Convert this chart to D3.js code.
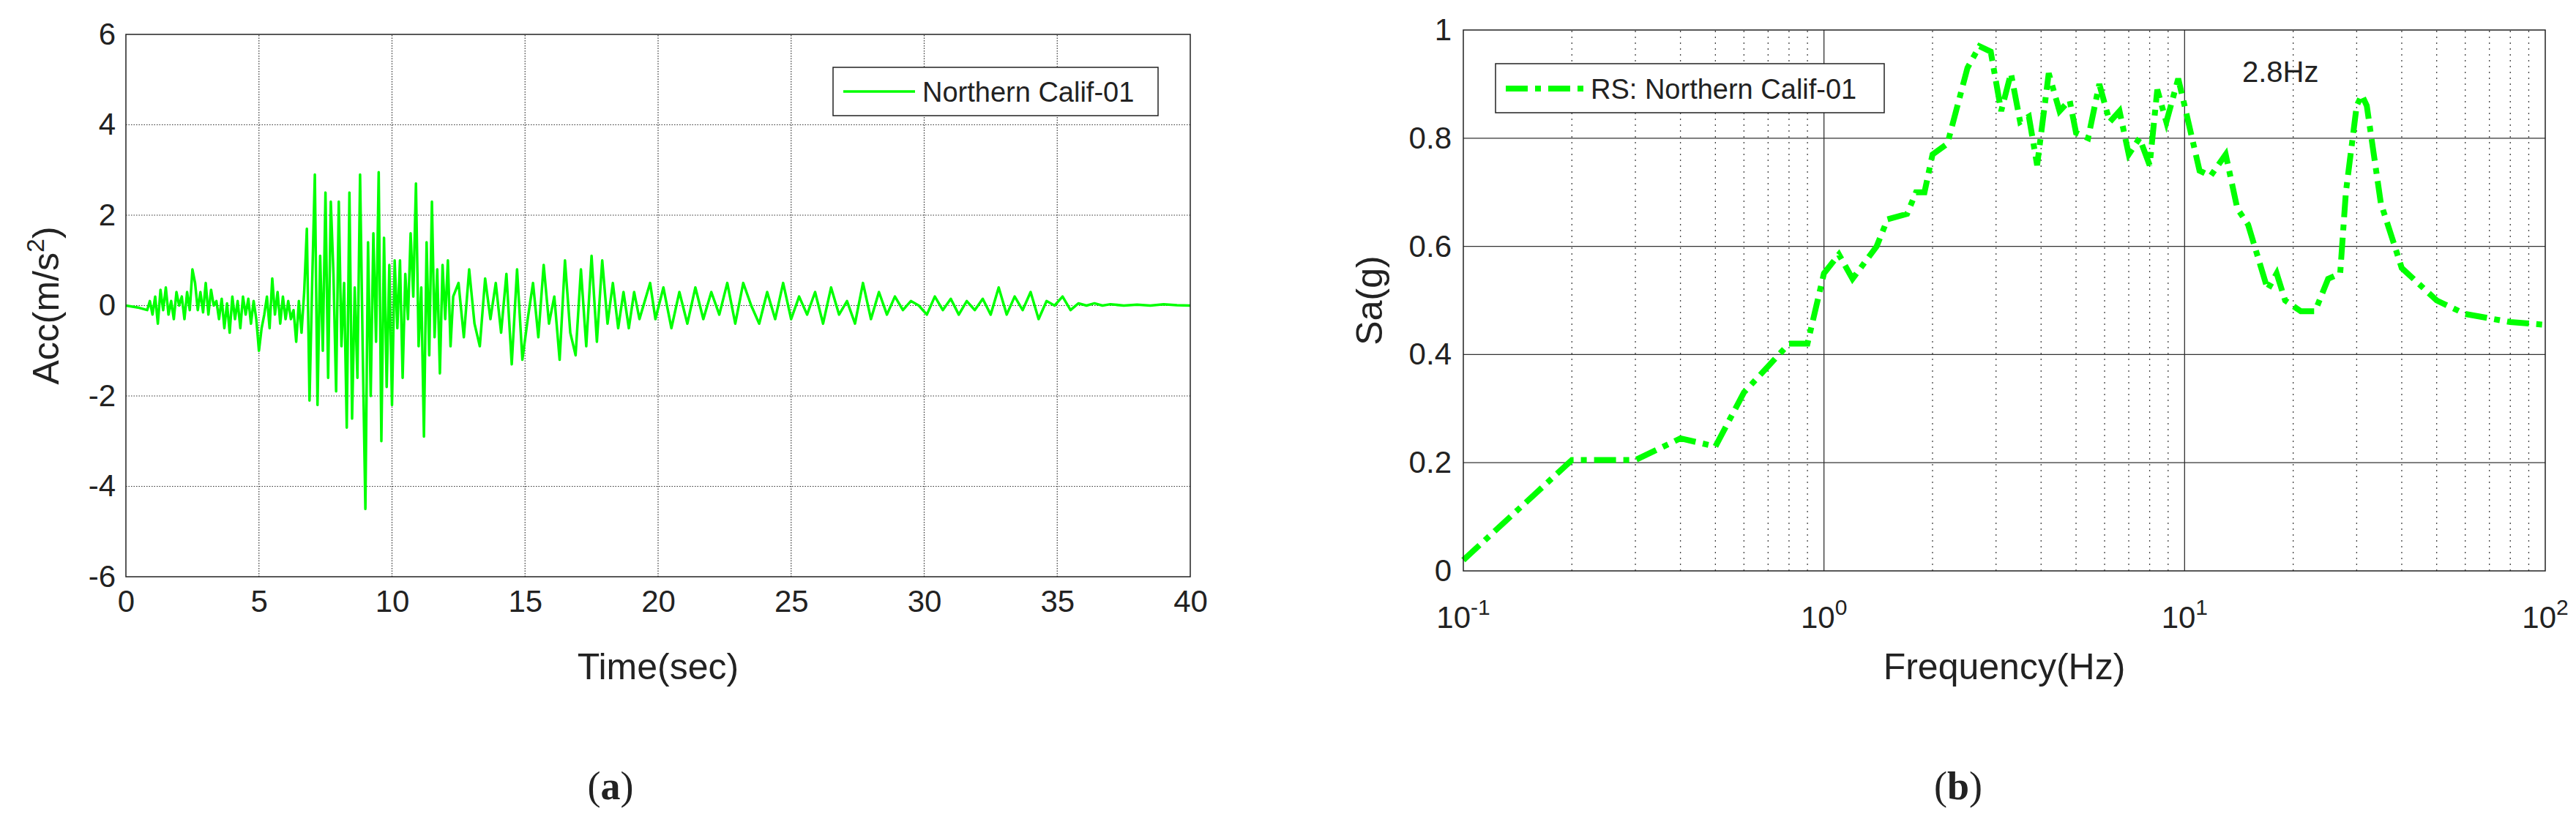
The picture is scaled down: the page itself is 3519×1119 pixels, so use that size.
<!DOCTYPE html>
<html><head><meta charset="utf-8">
<script src="https://cdn.jsdelivr.net/npm/d3@7"></script>
<style>body{margin:0;background:#fff}</style>
</head><body>
<svg id="c" width="3519" height="1119"></svg>
<script>
// (a) acceleration record, extrema
let accT = [0,0.5,0.8,0.9,1.0,1.1,1.2,1.3,1.4,1.5,1.6,1.7,1.8,1.9,2.0,2.1,2.2,2.3,2.4,2.5,2.6,2.7,2.8,2.9,3.0,3.1,3.2,3.3,3.4,3.5,3.6,3.7,3.8,3.9,4.0,4.1,4.2,4.3,4.4,4.5,4.6,4.7,4.8,4.9,5.0,5.1,5.2,5.3,5.4,5.5,5.6,5.7,5.8,5.9,6.0,6.1,6.2,6.3,6.4,6.5,6.6,6.7,6.8,6.9,7.0,7.1,7.2,7.3,7.4,7.5,7.6,7.7,7.8,7.9,8.0,8.1,8.2,8.3,8.4,8.5,8.6,8.7,8.8,8.9,9.0,9.1,9.2,9.3,9.4,9.5,9.6,9.7,9.8,9.9,10.0,10.1,10.2,10.3,10.4,10.5,10.6,10.7,10.8,10.9,11.0,11.1,11.2,11.3,11.4,11.5,11.6,11.7,11.8,11.9,12.0,12.1,12.2,12.3,12.5,12.7,12.9,13.1,13.3,13.5,13.7,13.9,14.1,14.3,14.5,14.7,14.9,15.1,15.3,15.5,15.7,15.9,16.1,16.3,16.5,16.7,16.9,17.1,17.3,17.5,17.7,17.9,18.1,18.3,18.5,18.7,18.9,19.1,19.3,19.5,19.7,19.9,20.2,20.5,20.8,21.1,21.4,21.7,22.0,22.3,22.6,22.9,23.2,23.5,23.8,24.1,24.4,24.7,25.0,25.3,25.6,25.9,26.2,26.5,26.8,27.1,27.4,27.7,28.0,28.3,28.6,28.9,29.2,29.5,29.8,30.1,30.4,30.7,31.0,31.3,31.6,31.9,32.2,32.5,32.8,33.1,33.4,33.7,34.0,34.3,34.6,34.9,35.2,35.5,35.8,36.1,36.4,36.7,37.0,37.5,38.0,38.5,39.0,39.5,40];
let accV = [0,-0.05,-0.1,0.1,-0.2,0.2,-0.4,0.35,-0.1,0.4,
  -0.2,0.1,-0.3,0.3,0,0.2,-0.3,0.3,-0.1,0.8,
  0.5,-0.1,0.3,-0.15,0.5,-0.2,0.35,0,0.1,-0.3,
  0.15,-0.5,0.05,-0.6,0.2,-0.3,0.1,-0.5,0.2,-0.2,
  0.15,-0.4,0.1,-0.3,-1.0,-0.5,-0.2,0.2,-0.5,0.6,
  -0.2,0.3,-0.4,0.2,-0.3,0.1,
  -0.3,-0.1,-0.8,0.1,-0.6,0.3,1.7,-2.1,0.5,2.9,
  -2.2,1.1,-1.0,2.5,-1.6,2.3,0.7,-1.9,2.3,-0.9,
  0.5,-2.7,2.5,-2.5,0.4,-1.6,2.9,-1.0,-4.5,1.4,
  -2.0,1.6,-0.8,2.95,-3.0,1.5,-1.8,0.9,-2.2,1.0,
  -0.5,1.0,-1.6,0.7,-0.3,1.6,0.2,2.7,-0.9,0.4,
  -2.9,1.4,-1.1,2.3,-0.7,0.8,-1.5,0.9,-0.3,1.0,
  -0.9,0.2,0.5,-0.7,0.8,-0.4,-0.9,0.6,-0.3,0.5,
  -0.6,0.7,-1.3,0.8,-1.2,-0.3,0.5,-0.7,0.9,-0.4,
  0.2,-1.2,1.0,-0.6,-1.1,0.8,-0.9,1.1,-0.8,1.0,
  -0.4,0.5,-0.5,0.3,-0.5,0.3,-0.3,0.1,0.5,-0.3,
  0.4,-0.5,0.3,-0.4,0.4,-0.3,0.3,-0.2,0.5,-0.4,
  0.5,0,-0.4,0.3,-0.3,0.5,-0.3,0.2,-0.2,0.3,
  -0.4,0.4,-0.2,0.1,-0.4,0.5,-0.3,0.3,-0.2,0.2,
  -0.1,0.1,0,-0.2,0.2,-0.1,0.15,-0.2,0.1,-0.1,
  0.15,-0.2,0.4,-0.2,0.2,-0.1,0.3,-0.3,0.1,0,0.2,-0.1,0.05,0,0.05,0,0.03,0,
  0.02,0,0.03,0.01,0];
let accXTicks = [0,5,10,15,20,25,30,35,40];
let accYTicks = [-6,-4,-2,0,2,4,6];

// (b) response spectrum
let rsF = [0.1,0.2,0.3,0.4,0.5,0.6,0.8,0.9,1.0,1.1,1.2,1.4,1.5,1.7,1.8,1.9,2.0,2.2,2.5,2.7,2.9,3.1,3.3,3.5,3.7,3.9,4.2,4.5,4.8,5.0,5.4,5.8,6.2,6.6,7.0,7.5,8.0,8.4,8.9,9.6,10,11,11.8,13,14,15,17,18,19,21,23,25,27,28,30,31,32,35,40,50,60,80,100];
let rsSa = [0.02,0.205,0.205,0.245,0.23,0.33,0.42,0.42,0.55,0.585,0.54,0.6,0.65,0.66,0.7,0.7,0.77,0.79,0.93,0.97,0.96,0.85,0.92,0.83,0.84,0.75,0.92,0.85,0.87,0.81,0.8,0.9,0.83,0.85,0.77,0.8,0.75,0.89,0.83,0.91,0.86,0.74,0.73,0.77,0.67,0.64,0.52,0.55,0.5,0.48,0.48,0.54,0.55,0.7,0.86,0.88,0.86,0.68,0.56,0.5,0.475,0.46,0.455];
let rsYTicks = [0,0.2,0.4,0.6,0.8,1];
let rsXTicks = [0.1,1,10,100];
let rsExp = ["-1","0","1","2"];

let green = "#00ff00";
let tickFont = "'Liberation Sans Narrow','Liberation Sans',Arial,sans-serif";
let svg = d3.select("#c");

// ---------- panel (a) ----------
let ax = d3.scaleLinear().domain([0,40]).range([172,1626]);
let ay = d3.scaleLinear().domain([-6,6]).range([788,47]);
let ga = svg.append("g");

ga.selectAll(".vg").data(accXTicks.slice(1,-1)).enter().append("line")
  .attr("x1",d=>ax(d)).attr("x2",d=>ax(d)).attr("y1",ay(-6)).attr("y2",ay(6))
  .attr("stroke","#333").attr("stroke-width",1.2).attr("stroke-dasharray","1.5,2");
ga.selectAll(".hg").data(accYTicks.slice(1,-1)).enter().append("line")
  .attr("x1",ax(0)).attr("x2",ax(40)).attr("y1",d=>ay(d)).attr("y2",d=>ay(d))
  .attr("stroke","#333").attr("stroke-width",1.2).attr("stroke-dasharray","1.5,2");

ga.append("path").datum(accT.map((t,i)=>[t,accV[i]]).filter(d=>d[1]!==undefined))
  .attr("d",d3.line().x(d=>ax(d[0])).y(d=>ay(d[1])))
  .attr("fill","none").attr("stroke",green).attr("stroke-width",3.5).attr("stroke-linejoin","round");

ga.append("rect").attr("x",ax(0)).attr("y",ay(6)).attr("width",ax(40)-ax(0)).attr("height",ay(-6)-ay(6))
  .attr("fill","none").attr("stroke","#222").attr("stroke-width",1.5);

ga.append("g").attr("transform",`translate(0,${ay(-6)})`)
  .call(d3.axisBottom(ax).tickValues(accXTicks).tickSize(0).tickPadding(18))
  .call(g=>g.select(".domain").remove())
  .selectAll("text").attr("font-size",42).attr("font-family",tickFont).attr("fill","#222");
ga.append("g").attr("transform",`translate(${ax(0)},0)`)
  .call(d3.axisLeft(ay).tickValues(accYTicks).tickFormat(d=>d).tickSize(0).tickPadding(14))
  .call(g=>g.select(".domain").remove())
  .selectAll("text").attr("font-size",42).attr("font-family",tickFont).attr("fill","#222");

ga.append("text").attr("x",(ax(0)+ax(40))/2).attr("y",928).attr("text-anchor","middle")
  .attr("font-size",50).attr("font-family",tickFont).attr("fill","#222").text("Time(sec)");
let yl = ga.append("text").attr("transform",`translate(80,${ay(0)}) rotate(-90)`).attr("text-anchor","middle")
  .attr("font-size",50).attr("font-family","'Liberation Sans',Arial,sans-serif").attr("fill","#222");
yl.append("tspan").text("Acc(m/s");
yl.append("tspan").attr("dy",-20).attr("font-size",34).text("2");
yl.append("tspan").attr("dy",20).text(")");

let la = ga.append("g").attr("transform","translate(1138,92)");
la.append("rect").attr("width",444).attr("height",66).attr("fill","#fff").attr("stroke","#222").attr("stroke-width",1.5);
la.append("line").attr("x1",14).attr("x2",112).attr("y1",33).attr("y2",33).attr("stroke",green).attr("stroke-width",3.5);
la.append("text").attr("x",122).attr("y",47).attr("font-size",38).attr("font-family",tickFont).attr("fill","#222").text("Northern Calif-01");

ga.append("text").attr("x",834).attr("y",1092).attr("text-anchor","middle").attr("font-size",54)
  .attr("font-family","'Liberation Serif','Times New Roman',serif").attr("fill","#222")
  .html("(<tspan font-weight='bold'>a</tspan>)");

// ---------- panel (b) ----------
let bx = d3.scaleLog().domain([0.1,100]).range([1999,3477]);
let by = d3.scaleLinear().domain([0,1]).range([780,41]);
let gb = svg.append("g");

let minor = [];
[0.1,1,10].forEach(dec=>[2,3,4,5,6,7,8,9].forEach(m=>minor.push(dec*m)));
gb.selectAll(".mg").data(minor).enter().append("line")
  .attr("x1",d=>bx(d)).attr("x2",d=>bx(d)).attr("y1",by(0)).attr("y2",by(1))
  .attr("stroke","#444").attr("stroke-width",1.3).attr("stroke-dasharray","2,6");
gb.selectAll(".dg").data([1,10]).enter().append("line")
  .attr("x1",d=>bx(d)).attr("x2",d=>bx(d)).attr("y1",by(0)).attr("y2",by(1))
  .attr("stroke","#333").attr("stroke-width",1.3);
gb.selectAll(".hg").data(rsYTicks.slice(1,-1)).enter().append("line")
  .attr("x1",bx(0.1)).attr("x2",bx(100)).attr("y1",d=>by(d)).attr("y2",d=>by(d))
  .attr("stroke","#333").attr("stroke-width",1.3);

gb.append("path").datum(rsF.map((f,i)=>[f,rsSa[i]]))
  .attr("d",d3.line().x(d=>bx(d[0])).y(d=>by(d[1])))
  .attr("fill","none").attr("stroke",green).attr("stroke-width",8).attr("stroke-dasharray","30,10,8,10");

gb.append("rect").attr("x",bx(0.1)).attr("y",by(1)).attr("width",bx(100)-bx(0.1)).attr("height",by(0)-by(1))
  .attr("fill","none").attr("stroke","#222").attr("stroke-width",1.5);

gb.append("g").attr("transform",`translate(${bx(0.1)},0)`)
  .call(d3.axisLeft(by).tickValues(rsYTicks).tickFormat(d=>d).tickSize(0).tickPadding(16))
  .call(g=>g.select(".domain").remove())
  .selectAll("text").attr("font-size",42).attr("font-family",tickFont).attr("fill","#222");

let xt = gb.selectAll(".xt").data(rsXTicks).enter().append("text")
  .attr("x",d=>bx(d)).attr("y",858).attr("text-anchor","middle")
  .attr("font-size",42).attr("font-family",tickFont).attr("fill","#222");
xt.append("tspan").text("10");
xt.append("tspan").attr("dy",-18).attr("font-size",30).text((d,i)=>rsExp[i]);

gb.append("text").attr("x",(bx(0.1)+bx(100))/2).attr("y",928).attr("text-anchor","middle")
  .attr("font-size",50).attr("font-family",tickFont).attr("fill","#222").text("Frequency(Hz)");
gb.append("text").attr("transform",`translate(1888,${by(0.5)}) rotate(-90)`).attr("text-anchor","middle")
  .attr("font-size",50).attr("font-family","'Liberation Sans',Arial,sans-serif").attr("fill","#222").text("Sa(g)");

gb.append("text").attr("x",3063).attr("y",112).attr("font-size",40).attr("font-family",tickFont).attr("fill","#222").text("2.8Hz");

let lb = gb.append("g").attr("transform","translate(2043,87)");
lb.append("rect").attr("width",531).attr("height",67).attr("fill","#fff").attr("stroke","#222").attr("stroke-width",1.5);
lb.append("line").attr("x1",14).attr("x2",124).attr("y1",34).attr("y2",34).attr("stroke",green).attr("stroke-width",8).attr("stroke-dasharray","30,10,8,10");
lb.append("text").attr("x",130).attr("y",48).attr("font-size",38).attr("font-family",tickFont).attr("fill","#222").text("RS: Northern Calif-01");

gb.append("text").attr("x",2675).attr("y",1092).attr("text-anchor","middle").attr("font-size",54)
  .attr("font-family","'Liberation Serif','Times New Roman',serif").attr("fill","#222")
  .html("(<tspan font-weight='bold'>b</tspan>)");
</script>
</body></html>
